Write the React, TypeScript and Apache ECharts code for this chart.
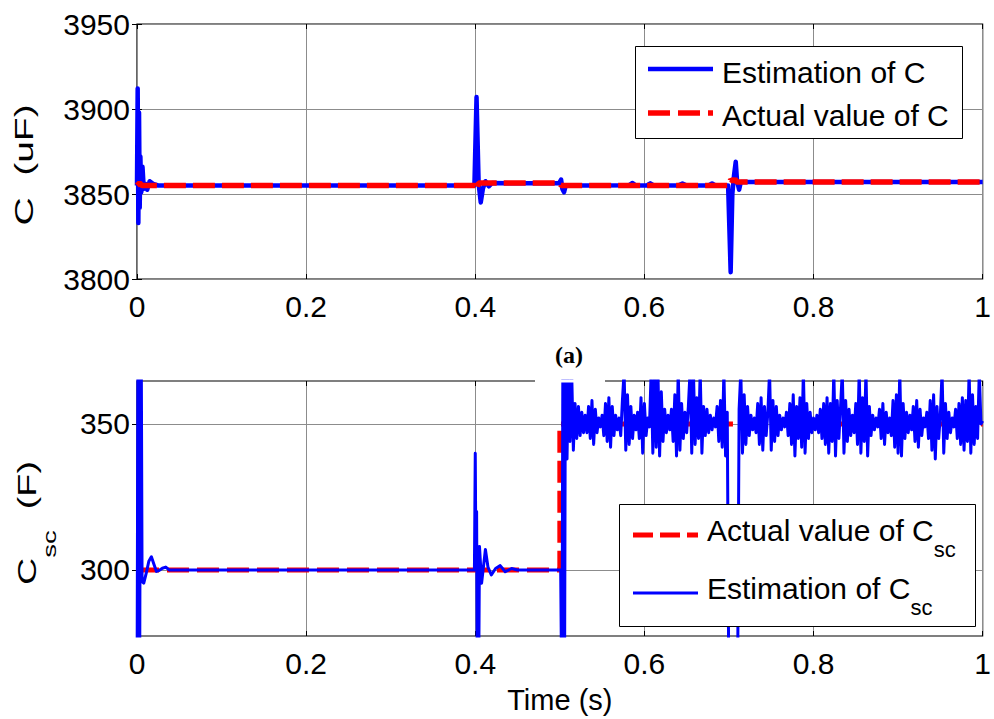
import React, { useEffect, useRef } from 'react';
import * as echarts from 'echarts';

// ---------- data ----------
const xTickStep = 0.2;
const topYTicks = [3800, 3850, 3900, 3950];
const bottomYTicks = [300, 350];

// (a) Estimation of C  [time s, uF]
const estC: number[][] = [
  [0, 3855], [0.0008, 3912], [0.0016, 3833], [0.0024, 3898], [0.0032, 3842], [0.004, 3872],
  [0.005, 3851], [0.0065, 3866], [0.008, 3853], [0.01, 3856], [0.012, 3852.5], [0.015, 3857.5],
  [0.019, 3856], [0.025, 3855], [0.1, 3855], [0.2, 3855], [0.3, 3855], [0.399, 3855],
  [0.4015, 3907], [0.404, 3856], [0.4065, 3845], [0.409, 3853], [0.412, 3857.5], [0.416, 3854.5],
  [0.42, 3856.5], [0.45, 3856.3], [0.499, 3856.3], [0.5015, 3858.5], [0.503, 3853], [0.505, 3851],
  [0.507, 3855], [0.55, 3855], [0.582, 3855.2], [0.586, 3856.5], [0.59, 3855], [0.603, 3855],
  [0.607, 3856.3], [0.611, 3855], [0.64, 3855], [0.645, 3856.2], [0.65, 3855], [0.676, 3855],
  [0.68, 3856.2], [0.684, 3855], [0.699, 3855], [0.702, 3804], [0.704, 3850], [0.706, 3861],
  [0.708, 3869], [0.7095, 3858], [0.712, 3852.5], [0.714, 3857], [0.72, 3857], [1, 3857],
];

// (a) Actual value of C
const actC: number[][] = [
  [0, 3855], [0.003, 3856.5], [0.006, 3855], [0.4, 3855], [0.4015, 3852.5], [0.404, 3856.5],
  [0.5, 3856.5], [0.5015, 3855], [0.7, 3855], [0.702, 3858.5], [0.705, 3857.5], [0.707, 3859],
  [0.709, 3857], [1, 3857],
];

// (b) Actual value of Csc
const actCsc: number[][] = [
  [0, 300], [0.5, 300], [0.5, 350], [1, 350],
];

// (b) Estimation of Csc, transient part
const estCscHead: number[][] = [
  [0, 250], [0.0015, 420], [0.003, 240], [0.0045, 420], [0.006, 296], [0.008, 295.5],
  [0.011, 299], [0.014, 303], [0.017, 304.5], [0.02, 302], [0.023, 299.5], [0.026, 299.8],
  [0.03, 300.6], [0.034, 301], [0.038, 300], [0.1, 300], [0.2, 300], [0.3, 300], [0.399, 300],
  [0.4, 340], [0.4008, 300], [0.4016, 320], [0.4024, 260], [0.404, 260], [0.405, 308],
  [0.4075, 295.5], [0.412, 307], [0.415, 301], [0.419, 298.3], [0.424, 300.5], [0.4295, 301.5],
  [0.4354, 299.4], [0.443, 300.5], [0.45, 300], [0.4995, 300], [0.501, 300], [0.5025, 250],
  [0.504, 420], [0.5055, 250], [0.507, 420], [0.5085, 338], [0.51, 366],
];

// (b) Estimation of Csc, oscillating part sampled every 2 ms from 0.512 s
const estCscNoiseStart = 0.512;
const estCscNoiseStep = 0.002;
const estCscNoise: number[] = [
  344, 368, 341, 357, 345, 356, 346, 354, 347, 353,
  347, 356, 345, 358, 343, 355, 347, 352, 349, 353,
  346, 357, 344, 359, 342, 356, 346, 353, 348, 352,
  346, 358, 368, 341, 360, 343, 356, 345, 353, 348,
  354, 345, 359, 340, 357, 346, 352, 349, 368, 340,
  368, 342, 368, 339, 361, 344, 355, 347, 353, 348,
  355, 344, 360, 339, 368, 341, 357, 345, 354, 347,
  356, 368, 340, 368, 343, 359, 345, 368, 340, 356,
  346, 355, 347, 353, 348, 352, 349, 356, 344, 358,
  342, 368, 339, 354, 250, 250, 250, 250, 250, 250,
  355, 368, 340, 360, 343, 356, 346, 353, 348, 352,
  347, 357, 343, 359, 341, 356, 346, 354, 368, 341,
  358, 344, 356, 346, 353, 348, 352, 349, 354, 346,
  357, 343, 360, 339, 356, 345, 359, 342, 368, 340,
  357, 345, 354, 347, 352, 348, 353, 347, 355, 345,
  357, 343, 359, 340, 357, 344, 368, 339, 358, 345,
  356, 368, 340, 358, 344, 355, 346, 353, 347, 357,
  343, 368, 340, 359, 344, 368, 339, 356, 346, 353,
  348, 352, 349, 355, 345, 357, 343, 354, 347, 352,
  346, 358, 342, 360, 340, 368, 339, 357, 345, 354,
  347, 353, 348, 356, 344, 358, 342, 355, 346, 352,
  349, 354, 345, 358, 341, 360, 338, 356, 345, 353,
  368, 340, 357, 345, 354, 347, 352, 349, 355, 345,
  357, 343, 359, 341, 358, 344, 368, 340, 360, 343,
  356, 345, 368, 350, 351,
];

const estCsc: number[][] = [
  ...estCscHead,
  ...estCscNoise.map((v, i) => [Number((estCscNoiseStart + estCscNoiseStep * i).toFixed(4)), v]),
];

// ---------- styling ----------
const SANS = "'Liberation Sans', Arial, Helvetica, sans-serif";
const SERIF = "'Liberation Serif', 'Times New Roman', serif";
const BLUE = '#0000ff';
const RED = '#ff0000';
const GRIDLINE = '#8c8c8c';

const plainNumber = (v: number) => String(Math.round(v * 1000) / 1000);
const labelStyle = { fontSize: 30, color: '#000', fontFamily: SANS, formatter: plainNumber };
const tickInside = { show: true, inside: true, length: 5, lineStyle: { color: '#000', width: 1 } };

function mainXAxis(gridIndex: number, extra: any = {}) {
  return {
    gridIndex, type: 'value', min: 0, max: 1, interval: xTickStep,
    axisLine: { show: false },
    axisTick: tickInside,
    axisLabel: { ...labelStyle, margin: 12 },
    splitLine: { show: true, lineStyle: { color: GRIDLINE, width: 1 } },
    ...extra,
  };
}
function topXAxis(gridIndex: number) {
  return {
    gridIndex, type: 'value', position: 'top', min: 0, max: 1, interval: xTickStep,
    axisLine: { show: false }, axisTick: tickInside, axisLabel: { show: false }, splitLine: { show: false },
  };
}

const legendMain = { fontSize: 30, fontFamily: SANS, lineHeight: 30, verticalAlign: 'top', fill: '#000' };
const legendSub = { fontSize: 22, fontFamily: SANS, lineHeight: 45, verticalAlign: 'bottom', fill: '#000' };

export default function App() {
  const ref = useRef<HTMLDivElement>(null);
  useEffect(() => {
    if (!ref.current) return;
    const chart = echarts.init(ref.current, null, { renderer: 'svg' });
    const Z = 100;
    const option: any = {
      animation: false,
      backgroundColor: '#fff',
      textStyle: { fontFamily: SANS },
      grid: [
        { left: 137, right: 8, top: 24, height: 255, show: true, borderColor: '#000', borderWidth: 1.2, backgroundColor: '#fff' },
        { left: 137, right: 8, top: 381, height: 255, show: true, borderColor: '#000', borderWidth: 1.2, backgroundColor: '#fff' },
      ],
      xAxis: [
        mainXAxis(0),
        mainXAxis(1, {
          name: 'Time (s)', nameLocation: 'middle', nameGap: 49,
          nameTextStyle: { fontSize: 29, color: '#000', fontFamily: SANS },
        }),
        topXAxis(0),
        topXAxis(1),
      ],
      yAxis: [
        {
          gridIndex: 0, type: 'value', min: topYTicks[0], max: topYTicks[topYTicks.length - 1], interval: 50,
          axisLine: { show: false }, axisTick: tickInside,
          axisLabel: { ...labelStyle, margin: 7 },
          splitLine: { show: true, lineStyle: { color: GRIDLINE, width: 1 } },
        },
        {
          gridIndex: 1, type: 'value', min: 277.4, max: 364.7,
          axisLine: { show: false },
          axisTick: { ...tickInside, customValues: bottomYTicks },
          axisLabel: { ...labelStyle, margin: 7, customValues: bottomYTicks },
          splitLine: { show: true, lineStyle: { color: GRIDLINE, width: 1 } },
        },
        {
          gridIndex: 0, type: 'value', position: 'right', min: topYTicks[0], max: topYTicks[topYTicks.length - 1], interval: 50,
          axisLine: { show: false }, axisTick: tickInside, axisLabel: { show: false }, splitLine: { show: false },
        },
        {
          gridIndex: 1, type: 'value', position: 'right', min: 277.4, max: 364.7,
          axisLine: { show: false }, axisTick: { ...tickInside, customValues: bottomYTicks },
          axisLabel: { show: false }, splitLine: { show: false },
        },
      ],
      series: [
        {
          name: 'Estimation of C', type: 'line', xAxisIndex: 0, yAxisIndex: 0, data: estC,
          showSymbol: false, symbol: 'none', z: 2,
          lineStyle: { color: BLUE, width: 4.5, join: 'round' },
        },
        {
          name: 'Actual value of C', type: 'line', xAxisIndex: 0, yAxisIndex: 0, data: actC,
          showSymbol: false, symbol: 'none', z: 3,
          lineStyle: { color: RED, width: 5.5, type: [22, 7], cap: 'butt' },
        },
        {
          name: 'Actual value of Csc', type: 'line', xAxisIndex: 1, yAxisIndex: 1, data: actCsc,
          showSymbol: false, symbol: 'none', z: 2,
          lineStyle: { color: RED, width: 5, type: [22, 8], cap: 'butt' },
        },
        {
          name: 'Estimation of Csc', type: 'line', xAxisIndex: 1, yAxisIndex: 1, data: estCsc,
          showSymbol: false, symbol: 'none', z: 3,
          lineStyle: { color: BLUE, width: 3, join: 'round' },
        },
      ],
      graphic: [
        // y-axis titles
        {
          type: 'text', x: 24, y: 165, rotation: Math.PI / 2, scaleX: 1.5, scaleY: 1, z: 50,
          style: { text: 'C  (uF)', fontSize: 26, fontFamily: SANS, fill: '#000', align: 'center', verticalAlign: 'middle' },
        },
        {
          type: 'text', x: 37, y: 523, rotation: Math.PI / 2, scaleX: 1.45, scaleY: 1, z: 50,
          style: {
            text: '{m|C}{s|sc}{m|  (F)}', fill: '#000', align: 'center', verticalAlign: 'middle',
            rich: {
              m: { fontSize: 26, fontFamily: SANS, lineHeight: 26, verticalAlign: 'top', fill: '#000' },
              s: { fontSize: 19, fontFamily: SANS, lineHeight: 45, verticalAlign: 'bottom', fill: '#000' },
            },
          },
        },
        // caption
        {
          type: 'text', x: 569, y: 355, z: 50,
          style: { text: '(a)', font: "bold 24px 'Liberation Serif', 'Times New Roman', serif", fill: '#000', align: 'center', verticalAlign: 'middle' },
        },
        // gap in the top frame of the lower plot
        { type: 'rect', z: 60, shape: { x: 535, y: 379.5, width: 70, height: 3 }, style: { fill: '#fff' } },
        // legend (upper)
        { type: 'rect', z: Z, shape: { x: 635.5, y: 46.5, width: 327, height: 92 }, style: { fill: '#fff', stroke: '#000', lineWidth: 1 } },
        { type: 'line', z: Z + 1, shape: { x1: 648, y1: 69, x2: 713, y2: 69 }, style: { stroke: BLUE, lineWidth: 4.5 } },
        { type: 'line', z: Z + 1, shape: { x1: 648, y1: 113, x2: 713, y2: 113 }, style: { stroke: RED, lineWidth: 5.5, lineDash: [22, 8] } },
        { type: 'text', z: Z + 1, x: 722, y: 72.5, style: { text: 'Estimation of C', fontSize: 30, fontFamily: SANS, fill: '#000', align: 'left', verticalAlign: 'middle' } },
        { type: 'text', z: Z + 1, x: 722, y: 115, style: { text: 'Actual value of C', fontSize: 30, fontFamily: SANS, fill: '#000', align: 'left', verticalAlign: 'middle' } },
        // legend (lower)
        { type: 'rect', z: Z, shape: { x: 619.5, y: 504.5, width: 356, height: 122 }, style: { fill: '#fff', stroke: '#000', lineWidth: 1 } },
        { type: 'line', z: Z + 1, shape: { x1: 633, y1: 535, x2: 698, y2: 535 }, style: { stroke: RED, lineWidth: 5, lineDash: [20, 7] } },
        { type: 'line', z: Z + 1, shape: { x1: 633, y1: 593, x2: 698, y2: 593 }, style: { stroke: BLUE, lineWidth: 3 } },
        {
          type: 'text', z: Z + 1, x: 707, y: 515.5,
          style: { text: '{m|Actual value of C}{s|sc}', align: 'left', verticalAlign: 'top', fill: '#000', rich: { m: legendMain, s: legendSub } },
        },
        {
          type: 'text', z: Z + 1, x: 707, y: 573.5,
          style: { text: '{m|Estimation of C}{s|sc}', align: 'left', verticalAlign: 'top', fill: '#000', rich: { m: legendMain, s: legendSub } },
        },
      ],
    };
    chart.setOption(option);
    return () => chart.dispose();
  }, []);
  return <div ref={ref} style={{ position: 'absolute', left: 0, top: 0, width: 994, height: 719 }} />;
}
